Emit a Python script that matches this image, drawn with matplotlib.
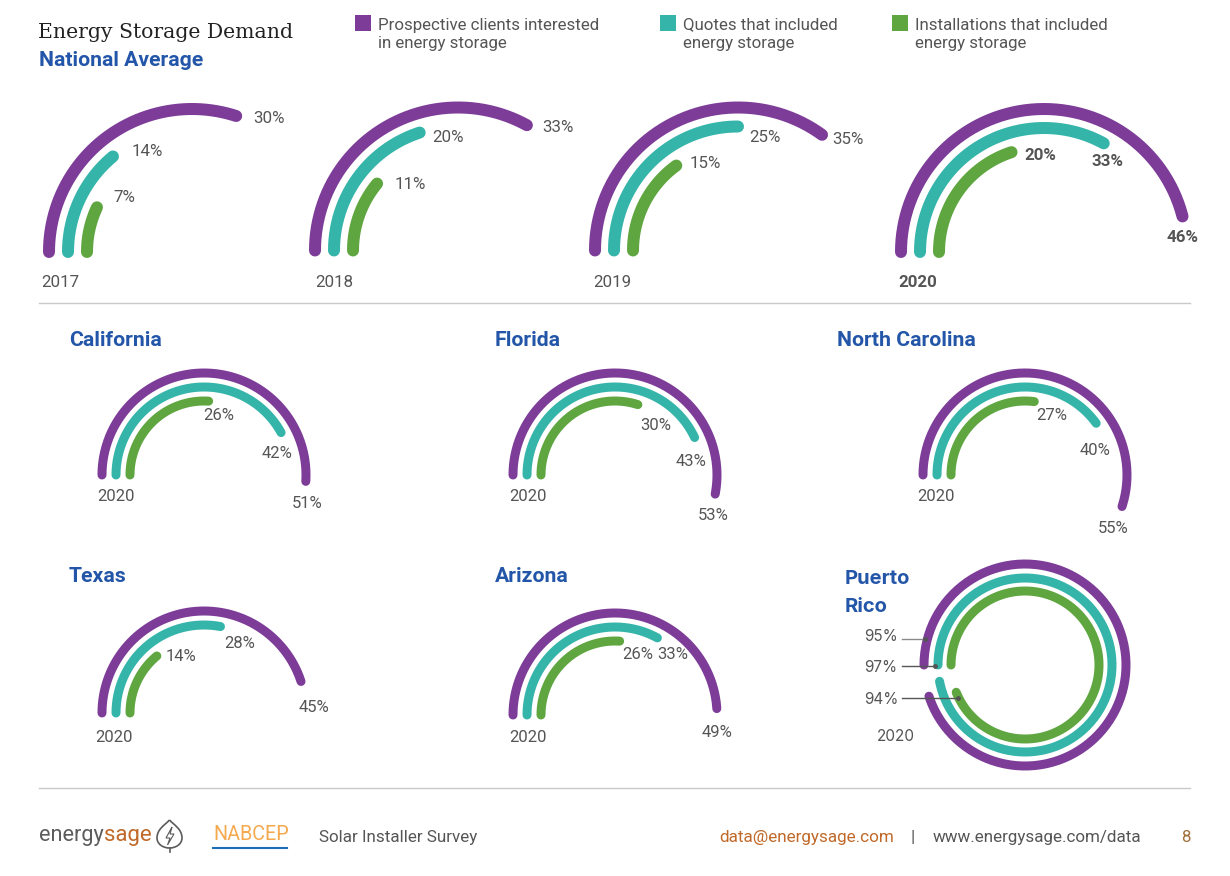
import numpy as np
import matplotlib
matplotlib.use('Agg')
import matplotlib.pyplot as plt
from matplotlib.patches import Rectangle, PathPatch
from matplotlib.path import Path

# national average, one value per year
years = ['2017', '2018', '2019', '2020']
nat_clients = [30, 33, 35, 46]
nat_quotes = [14, 20, 25, 33]
nat_installs = [7, 11, 15, 20]

# 2020 by state
states = ['California', 'Florida', 'North Carolina', 'Texas', 'Arizona', 'Puerto\nRico']
state_clients = [51, 53, 55, 45, 49, 95]
state_quotes = [42, 43, 40, 28, 33, 97]
state_installs = [26, 30, 27, 14, 26, 94]

legend_labels = ['Prospective clients interested\nin energy storage',
                 'Quotes that included\nenergy storage',
                 'Installations that included\nenergy storage']

PURPLE = '#7d3c98'
TEAL = '#35b5aa'
GREEN = '#5fa641'
GREY = '#555555'
BLUE = '#2356a8'
ORANGE = '#c0692a'

W, H = 1230, 876
plt.rcParams['font.family'] = ['Roboto', 'DejaVu Sans']
fig = plt.figure(figsize=(W / 100, H / 100), dpi=100)


def gauge(cx, cy, radii, values, lw):
    # polar axes sized in pixels so the outer radius lands on the outer ring
    rmax = radii[0]
    ax = fig.add_axes([(cx - rmax) / W, 1 - (cy + rmax) / H, 2 * rmax / W, 2 * rmax / H],
                      projection='polar')
    ax.set_theta_zero_location('W')
    ax.set_theta_direction(-1)
    ax.set_rlim(0, rmax)
    ax.axis('off')
    for r, v, c in zip(radii, values, [PURPLE, TEAL, GREEN]):
        theta = np.linspace(0, v / 100 * 2 * np.pi, 200)
        ax.plot(theta, np.full_like(theta, r), color=c, lw=lw * 0.72,
                solid_capstyle='round', clip_on=False)


# national row
nat_cx = [192, 458, 738, 1044]
nat_cy = [252, 250.5, 250.5, 252]
for i in range(4):
    gauge(nat_cx[i], nat_cy[i], [143, 124, 105],
          [nat_clients[i], nat_quotes[i], nat_installs[i]], 12)

# state rows
state_cx = [204, 615, 1025, 204, 615, 1025]
state_cy = [475, 475, 475, 713, 715, 665]
state_radii = [[102, 88, 74]] * 5 + [[101, 87, 74]]
for i in range(6):
    gauge(state_cx[i], state_cy[i], state_radii[i],
          [state_clients[i], state_quotes[i], state_installs[i]], 9)

# overlay in pixel coords for all the text and furniture
ov = fig.add_axes([0, 0, 1, 1])
ov.set_xlim(0, W)
ov.set_ylim(H, 0)
ov.axis('off')
ov.patch.set_alpha(0)


def txt(x, y, s, ha='center', size=12.2, color=GREY, **kw):
    ov.text(x, y + 1, s, ha=ha, va='center', fontsize=size, color=color, **kw)


txt(38, 31.5, 'Energy Storage Demand', ha='left', size=14.7, color='#222222', family='DejaVu Serif')
txt(39, 59.5, 'National Average', ha='left', size=15.2, color=BLUE, fontweight='bold')

# legend
leg_sq = [355, 660, 892]
leg_tx = [378, 683, 915]
for sx, tx, c, lab in zip(leg_sq, leg_tx, [PURPLE, TEAL, GREEN], legend_labels):
    ov.add_patch(Rectangle((sx, 15), 16, 16, color=c, lw=0))
    txt(tx, 33.5, lab, ha='left', linespacing=1.32)

# national labels
nat_pos = [[(269, 118), (147, 151), (124, 197), (60, 282)],
           [(558, 127), (448, 137), (410, 184), (334, 282)],
           [(848, 139), (765, 137), (705, 163), (612, 282)],
           [(1183, 237), (1107, 161), (1040, 155), (918, 282)]]
for i in range(4):
    w = 'bold' if i == 3 else 'normal'
    p = nat_pos[i]
    vals = [nat_clients[i], nat_quotes[i], nat_installs[i]]
    for (x, y), v in zip(p[:3], vals):
        txt(x, y - 0.5, f'{v}%', fontweight=w)
    txt(p[3][0], p[3][1] - 0.5, years[i], fontweight=w)

# state labels
state_title = [(69, 340), (495, 340), (837, 340), (69, 576), (495, 576), (845, 592)]
state_pos = [[(307, 503), (277, 453), (219, 415), (116, 496)],
             [(713, 515), (691, 461), (656, 425), (528, 496)],
             [(1113, 528), (1095, 450), (1052, 415), (936, 496)],
             [(314, 707), (240, 643), (181, 656), (114, 737)],
             [(717, 732), (673, 654), (638, 654), (528, 737)],
             [(881, 636), (881, 667), (881, 699), (896, 736)]]
for i in range(6):
    pr = i == 5
    fam = ['Inter', 'DejaVu Sans'] if pr else ['Roboto', 'DejaVu Sans']
    txt(state_title[i][0], state_title[i][1], states[i], ha='left', size=14.5 if pr else 15.3,
        color=BLUE, fontweight='bold', family=fam, linespacing=1.75)
    p = state_pos[i]
    vals = [state_clients[i], state_quotes[i], state_installs[i]]
    sz = 11 if pr else 12
    for (x, y), v in zip(p[:3], vals):
        txt(x, y - 0.5, f'{v}%', size=sz, family=fam)
    txt(p[3][0], p[3][1] - 0.5, '2020', size=sz, family=fam)

# puerto rico leader lines
for y, x1, c in [(639, 925, '#8a8a8a'), (666, 935, '#555555'), (698, 958, '#555555')]:
    ov.plot([902, x1], [y, y], color=c, lw=1)
    ov.plot([x1], [y], 'o', color='#555555', ms=2.5)

# separators
for y in [303, 788]:
    ov.plot([39, 1190], [y, y], color='#c9c9c9', lw=1)

# footer
txt(39, 835, 'energy', ha='left', size=15.6, color='#5c5c5c')
txt(104, 835, 'sage', ha='left', size=16, color=ORANGE)
C4 = Path.CURVE4
leaf = Path([(169.5, 820), (174, 825), (182, 829), (182, 838), (182, 844), (176, 848), (169.5, 848),
             (163, 848), (157, 844), (157, 838), (157, 829), (165, 825), (169.5, 820)],
            [Path.MOVETO, C4, C4, C4, C4, C4, C4, C4, C4, C4, C4, C4, C4])
ov.add_patch(PathPatch(leaf, fc='none', ec='#5c5c5c', lw=1.2))
ov.plot([169.5, 169.5], [848, 852], color='#5c5c5c', lw=1.2)
bolt = Path([(172, 827), (166, 838), (170, 838), (167.5, 845), (174, 834), (170, 834), (172, 827)])
ov.add_patch(PathPatch(bolt, fc='none', ec='#5c5c5c', lw=0.8))
txt(213, 834, 'NABCEP', ha='left', size=14.2, color='#f5a94e')
ov.plot([213, 287], [848, 848], color='#1b6fb5', lw=1.5)
txt(319, 836.5, 'Solar Installer Survey', ha='left', size=12.25)
txt(719, 836.5, 'data@energysage.com', ha='left', size=12.3, color=ORANGE)
txt(913, 836.5, '|')
txt(933, 836.5, 'www.energysage.com/data', ha='left', size=12.25)
txt(1186, 836.5, '8', color='#a0703a')

fig.savefig('out.png', dpi=100)
